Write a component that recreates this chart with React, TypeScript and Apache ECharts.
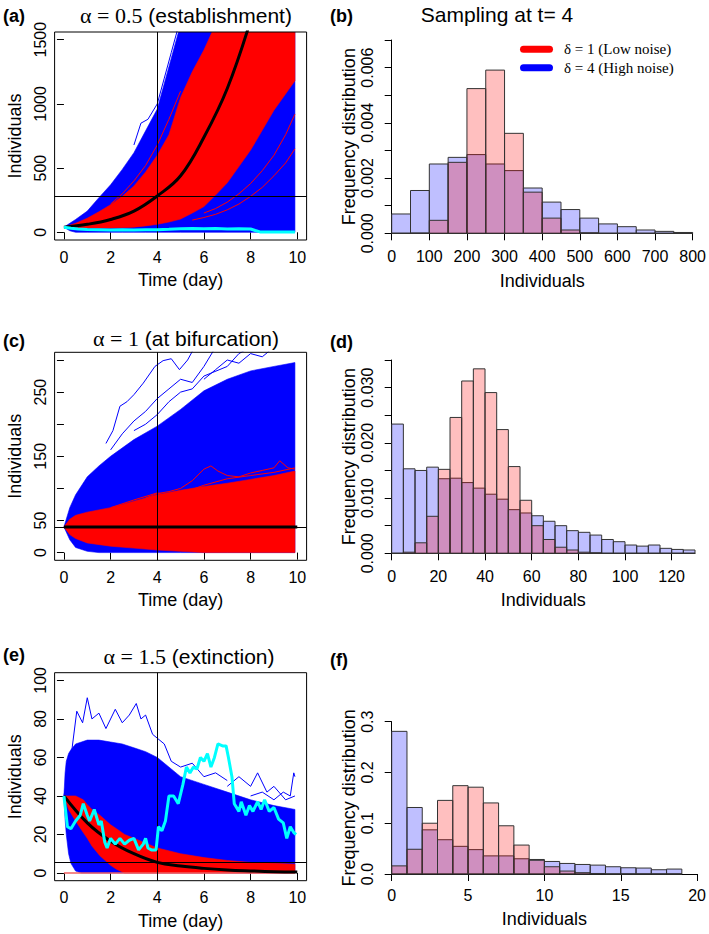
import React, { useEffect, useRef } from "react";
import * as echarts from "echarts";

const SANS = "'Liberation Sans', Arial, Helvetica, sans-serif";
const SERIF = "'Liberation Serif', 'Times New Roman', serif";

// ---------------- shared ----------------
const timeTicks = [0, 2, 4, 6, 8, 10];
const samplingT = 4;

// ---------------- (a) alpha = 0.5 ----------------
const aBlueT = [0, 0.25, 0.5, 1, 1.5, 2, 2.5, 3, 3.5, 4, 4.5, 5, 9.9];
const aBlueHi = [40, 70, 100, 165, 270, 370, 490, 620, 790, 960, 1290, 1620, 1620];
const aBlueLo = [40, 12, 0, 0, 0, 0, 0, 0, 0, 0, 0, 0, 0];
const aBlueOutT = [3, 3.3, 3.6, 4, 4.3, 4.6, 4.9];
const aBlueOut = [680, 850, 880, 1000, 1200, 1400, 1600];
const aRedT = [0, 0.5, 1, 1.5, 2, 2.5, 3, 3.5, 4, 4.5, 5, 5.5, 6, 6.5, 7, 8, 9, 9.9];
const aRedHi = [40, 70, 110, 160, 215, 280, 360, 470, 600, 760, 1050, 1250, 1420, 1620, 1620, 1620, 1620, 1620];
const aRedLo = [40, 35, 33, 33, 33, 35, 40, 50, 62, 80, 103, 150, 200, 290, 385, 640, 950, 1180];
const aRedOut1T = [5.5, 6, 6.5, 7, 7.5, 8, 8.5, 9, 9.5, 9.9];
const aRedOut1 = [95, 115, 140, 175, 220, 280, 350, 440, 540, 650];
const aRedOut2T = [6, 6.5, 7, 7.5, 8, 8.5, 9, 9.5, 9.9];
const aRedOut2 = [150, 185, 235, 300, 380, 480, 600, 760, 920];
const aRedOut3T = [2, 2.5, 3, 3.5, 4, 4.5, 5];
const aRedOut3 = [220, 300, 400, 520, 680, 880, 1100];
const aDetT = [0, 1, 2, 3, 4, 5, 6, 7, 8];
const aDet = [40, 62, 100, 165, 283, 440, 740, 1120, 1650];
const aCyanT = [0, 0.3, 0.6, 1, 1.5, 2, 2.5, 3, 3.5, 4, 4.5, 5, 5.5, 6, 6.5, 7, 7.5, 8, 8.2, 8.4, 9, 9.9];
const aCyan = [40, 32, 26, 22, 20, 18, 20, 17, 19, 20, 23, 27, 30, 27, 30, 25, 28, 26, 14, 3, 2, 2];
const aHLine = 283;
const aYTicks = [0, 500, 1000, 1500];

// ---------------- (c) alpha = 1 ----------------
const cBlueT = [0, 0.25, 0.5, 1, 1.5, 2, 3, 4, 5, 6, 7, 8, 9, 9.9];
const cBlueHi = [40, 70, 90, 118, 135, 150, 176, 197, 223, 252, 270, 283, 290, 296];
const cBlueLo = [40, 20, 8, 2, 0, 0, 0, 0, 0, 0, 0, 0, 0, 0];
const cBlueOut1T = [1.8, 2.1, 2.4, 2.7, 3.0, 3.4, 3.9, 4.25, 4.6, 4.95, 5.3, 5.6];
const cBlueOut1 = [170, 190, 228, 235, 246, 264, 290, 299, 302, 285, 300, 320];
const cBlueOut2T = [2, 2.5, 3, 3.5, 4, 4.5, 5, 5.5, 6, 6.5];
const cBlueOut2 = [160, 185, 205, 220, 240, 255, 270, 265, 290, 320];
const cBlueOut3T = [3, 3.5, 4, 4.5, 5, 5.5, 6, 7, 7.5, 8];
const cBlueOut3 = [190, 200, 215, 235, 250, 255, 275, 290, 310, 320];
const cBlueOut4T = [6, 6.5, 7, 7.5, 8, 8.5, 9, 9.5];
const cBlueOut4 = [270, 285, 300, 295, 310, 305, 320, 318];
const cRedT = [0, 0.25, 0.5, 1, 2, 3, 4, 5, 6, 7, 8, 9, 9.9];
const cRedHi = [40, 52, 58, 63, 70, 80, 90, 97, 103, 108, 114, 120, 127];
const cRedLo = [40, 28, 22, 15, 10, 7, 4, 2, 0, 0, 0, 0, 0];
const cRedOut1T = [3.5, 4, 4.5, 5, 5.5, 6, 6.3, 6.6, 7, 7.5, 8, 8.5, 9, 9.25, 9.6, 9.9];
const cRedOut1 = [85, 92, 95, 100, 112, 130, 135, 127, 120, 118, 124, 128, 132, 143, 132, 130];
const cRedOut2T = [2, 3, 4, 4.5, 5, 6, 7, 8, 9, 9.9];
const cRedOut2 = [70, 82, 93, 88, 92, 105, 115, 120, 125, 132];
const cDetT = [0, 10];
const cDet = [40, 40];
const cHLine = 40;
const cYTicks = [0, 50, 100, 150, 200, 250, 300];
const cYLabels = [0, 50, 150, 250];

// ---------------- (e) alpha = 1.5 ----------------
const eBlueT = [0, 0.05, 0.1, 0.2, 0.3, 0.5, 0.75, 1, 1.5, 2, 2.5, 3, 3.5, 4, 5, 6, 7, 8, 9, 9.9];
const eBlueHi = [40, 52, 58, 62, 64, 67, 68, 69, 69, 68, 67, 65, 63, 60, 50, 46, 42, 38, 35, 33];
const eBlueLo = [40, 28, 20, 10, 5, 1, 0, 0, 0, 0, 0, 0, 0, 0, 0, 0, 0, 0, 0, 0];
const eBlueOut1T = [0, 0.3, 0.55, 0.8, 1.0, 1.2, 1.5, 1.8, 2.2, 2.5, 2.8, 3.1, 3.3, 3.5, 3.8, 4.0, 4.3, 4.6, 5, 5.5, 6, 6.5, 7];
const eBlueOut1 = [40, 60, 84, 78, 91, 80, 83, 75, 85, 78, 82, 88, 80, 82, 72, 70, 67, 58, 55, 57, 50, 52, 48];
const eBlueOut2T = [8, 8.5, 9, 9.4, 9.7, 9.85, 9.9];
const eBlueOut2 = [40, 42, 38, 42, 40, 52, 50];
const eBlueOut3T = [7, 7.5, 8, 8.3, 8.7, 9, 9.5, 9.9];
const eBlueOut3 = [45, 50, 45, 52, 42, 45, 38, 40];
const eRedT = [0, 0.2, 0.5, 0.83, 1, 1.2, 1.54, 2, 2.25, 2.6, 3, 3.5, 4, 5, 6, 7, 8, 9, 9.9];
const eRedHi = [40, 40, 40, 38, 35.5, 33, 30, 25, 23, 20, 18, 15.5, 13, 10, 8, 6.5, 5.5, 5, 4.6];
const eRedLo = [40, 33, 27, 21, 18, 14, 9, 4, 2, 0, 0, 0, 0, 0, 0, 0, 0, 0, 0];
const eRedZeroT = [0, 9.9];
const eRedZero = [0, 0];
const eDetT = [0, 1, 2, 3, 4, 5, 6, 7, 8, 9, 10];
const eDet = [40, 26, 16.5, 10, 5.5, 3.6, 2.4, 1.6, 1.1, 0.7, 0.5];
const eCyanT = [0, 0.15, 0.3, 0.5, 0.7, 0.83, 1.0, 1.1, 1.3, 1.5, 1.6, 1.75, 1.85, 2.0, 2.2, 2.4, 2.6, 2.8, 3.0, 3.2, 3.4, 3.5, 3.6, 3.75, 3.95, 4.05, 4.2, 4.35, 4.5, 4.7, 4.9, 5.1, 5.25, 5.4, 5.55, 5.7, 5.85, 6.0, 6.15, 6.3, 6.45, 6.6, 6.8, 6.95, 7.05, 7.2, 7.3, 7.5, 7.6, 7.8, 7.95, 8.1, 8.3, 8.45, 8.6, 8.8, 9.0, 9.2, 9.4, 9.55, 9.7, 9.85, 9.95];
const eCyan = [40, 24, 23, 27, 30, 36, 30, 27, 33, 25, 27, 16, 13, 18, 15, 18, 15, 17, 18, 12, 15, 18, 13, 12, 12, 24, 22, 27, 40, 40, 36, 46, 55, 52, 55, 54, 60, 58, 62, 55, 60, 67, 66, 66, 60, 50, 36, 32, 37, 30, 35, 32, 37, 33, 38, 32, 34, 28, 26, 18, 24, 21, 20];
const eHLine = 5.5;
const eYTicks = [0, 20, 40, 60, 80, 100];

// ---------------- (b) histogram at t = 4, alpha = 0.5 ----------------
const bBreaks = [0, 50, 100, 150, 200, 250, 300, 350, 400, 450, 500, 550, 600, 650, 700, 750, 800];
const bBlue = [0.0007, 0.00155, 0.00251, 0.00275, 0.00285, 0.00251, 0.00227, 0.00164, 0.00113, 0.00086, 0.00055, 0.00034, 0.00024, 0.00012, 0.00007, 0.00003];
const bRed = [0, 0.00001, 0.00047, 0.00257, 0.00524, 0.00591, 0.00362, 0.00149, 0.00055, 0.00012, 0.00002, 0, 0, 0, 0, 0];
const bXTicks = [0, 100, 200, 300, 400, 500, 600, 700, 800];
const bYTicks = [0, 0.001, 0.002, 0.003, 0.004, 0.005, 0.006, 0.007];
const bYLabels = [0, 0.002, 0.004, 0.006];

// ---------------- (d) histogram, alpha = 1 ----------------
const dBreaks = [0, 5, 10, 15, 20, 25, 30, 35, 40, 45, 50, 55, 60, 65, 70, 75, 80, 85, 90, 95, 100, 105, 110, 115, 120, 125, 130];
const dBlue = [0.0234, 0.0153, 0.015, 0.0156, 0.0135, 0.0136, 0.0128, 0.0118, 0.0107, 0.0098, 0.0079, 0.0073, 0.0068, 0.0058, 0.005, 0.0041, 0.0038, 0.0033, 0.0025, 0.0021, 0.0015, 0.0013, 0.0015, 0.0009, 0.0007, 0.0006];
const dRed = [0, 0.0002, 0.0019, 0.0067, 0.0152, 0.0246, 0.0312, 0.0334, 0.0291, 0.0224, 0.0157, 0.0096, 0.005, 0.0025, 0.0011, 0.0006, 0.0002, 0.0001, 0, 0, 0, 0, 0, 0, 0, 0];
const dXTicks = [0, 20, 40, 60, 80, 100, 120];
const dYTicks = [0, 0.005, 0.01, 0.015, 0.02, 0.025, 0.03, 0.035];
const dYLabels = [0, 0.01, 0.02, 0.03];

// ---------------- (f) histogram, alpha = 1.5 ----------------
const fBreaks = [0, 1, 2, 3, 4, 5, 6, 7, 8, 9, 10, 11, 12, 13, 14, 15, 16, 17, 18, 19];
const fBlue = [0.281, 0.131, 0.087, 0.0675, 0.0545, 0.048, 0.0357, 0.0357, 0.03, 0.0286, 0.0247, 0.0208, 0.0188, 0.0175, 0.0143, 0.0123, 0.0117, 0.0084, 0.0097];
const fRed = [0.016, 0.0487, 0.1, 0.145, 0.174, 0.171, 0.14, 0.095, 0.057, 0.027, 0.0143, 0.0058, 0.0026, 0.001, 0, 0, 0, 0, 0];
const fXTicks = [0, 5, 10, 15, 20];
const fYTicks = [0, 0.1, 0.2, 0.3];

// ---------------- helpers ----------------
const zip = (t: number[], v: number[]) => t.map((x, i) => [x, v[i]]);

function band(g: number, ts: number[], lo: number[], hi: number[], color: string, z: number) {
  return {
    type: "custom",
    xAxisIndex: g,
    yAxisIndex: g,
    clip: true,
    silent: true,
    z,
    data: ts.map((t, i) => [t, lo[i], hi[i]]),
    encode: { x: 0, y: [1, 2] },
    renderItem: (params: any, api: any) => {
      if (params.dataIndex !== 0) return null;
      const pts: number[][] = [];
      for (let i = 0; i < ts.length; i++) pts.push(api.coord([ts[i], hi[i]]));
      for (let i = ts.length - 1; i >= 0; i--) pts.push(api.coord([ts[i], lo[i]]));
      return { type: "polygon", shape: { points: pts }, style: { fill: color, stroke: color, lineWidth: 0.6 } };
    },
  };
}

function line(g: number, ts: number[], vs: number[], color: string, width: number, z: number, extra: any = {}) {
  return {
    type: "line",
    xAxisIndex: g,
    yAxisIndex: g,
    data: zip(ts, vs),
    showSymbol: false,
    symbol: "none",
    silent: true,
    z,
    lineStyle: { color, width },
    ...extra,
  };
}

function guides(hval: number) {
  return {
    markLine: {
      silent: true,
      symbol: ["none", "none"],
      label: { show: false },
      lineStyle: { color: "#000", width: 1, type: "solid" },
      data: [{ xAxis: samplingT }, { yAxis: hval }],
    },
  };
}

function hist(g: number, breaks: number[], vals: number[], fill: string, z: number) {
  return {
    type: "custom",
    xAxisIndex: g,
    yAxisIndex: g,
    silent: true,
    z,
    data: vals.map((v, i) => [breaks[i], breaks[i + 1], v]),
    encode: { x: [0, 1], y: 2 },
    renderItem: (params: any, api: any) => {
      const p0 = api.coord([api.value(0), api.value(2)]);
      const p1 = api.coord([api.value(1), 0]);
      return {
        type: "rect",
        shape: { x: p0[0], y: p0[1], width: p1[0] - p0[0], height: p1[1] - p0[1] },
        style: { fill, stroke: "#333", lineWidth: 1 },
      };
    },
  };
}

const tickLbl = { color: "#000", fontSize: 16, fontFamily: SANS };
const nameTxt = { color: "#000", fontSize: 18, fontFamily: SANS };
const plain = (v: number) => String(v);

function leftX(g: number) {
  return {
    gridIndex: g,
    type: "value",
    min: -0.4,
    max: 10.4,
    axisLine: { show: false },
    splitLine: { show: false },
    axisTick: { show: true, length: 7, lineStyle: { color: "#000", width: 1 }, customValues: timeTicks },
    axisLabel: { ...tickLbl, customValues: timeTicks, margin: 9, formatter: plain },
    name: "Time (day)",
    nameLocation: "middle",
    nameGap: 31,
    nameTextStyle: nameTxt,
  };
}

function leftY(g: number, min: number, max: number, ticks: number[], labels: number[]) {
  return {
    gridIndex: g,
    type: "value",
    min,
    max,
    axisLine: { show: false },
    splitLine: { show: false },
    axisTick: { show: true, length: 7, lineStyle: { color: "#000", width: 1 }, customValues: ticks },
    axisLabel: { ...tickLbl, customValues: labels, rotate: 90, margin: 6, formatter: plain },
    name: "Individuals",
    nameLocation: "middle",
    nameRotate: 90,
    nameGap: 31,
    nameTextStyle: nameTxt,
  };
}

function histX(g: number, max: number, ticks: number[], offset: number) {
  return {
    gridIndex: g,
    type: "value",
    min: 0,
    max,
    offset,
    axisLine: { show: true, lineStyle: { color: "#000", width: 1 } },
    splitLine: { show: false },
    axisTick: { show: true, length: 7, lineStyle: { color: "#000", width: 1 }, customValues: ticks },
    axisLabel: { ...tickLbl, customValues: ticks, margin: 7, formatter: plain },
    name: "Individuals",
    nameLocation: "middle",
    nameGap: 30,
    nameTextStyle: nameTxt,
  };
}

function histY(g: number, max: number, ticks: number[], labels: number[], digits: number) {
  return {
    gridIndex: g,
    type: "value",
    min: 0,
    max,
    offset: 9,
    axisLine: { show: true, lineStyle: { color: "#000", width: 1 } },
    splitLine: { show: false },
    axisTick: { show: true, length: 7, lineStyle: { color: "#000", width: 1 }, customValues: ticks },
    axisLabel: { ...tickLbl, customValues: labels, rotate: 90, margin: 7, formatter: (v: number) => v.toFixed(digits) },
    name: "Frequency distribution",
    nameLocation: "middle",
    nameRotate: 90,
    nameGap: 25,
    nameTextStyle: nameTxt,
  };
}

function txt(x: number, y: number, text: string, font: string, align = "left", rich?: any) {
  return {
    type: "text",
    x,
    y,
    z: 100,
    style: {
      text,
      font,
      fill: "#000",
      textAlign: align,
      align,
      textVerticalAlign: "middle",
      verticalAlign: "middle",
      ...(rich ? { rich } : {}),
    },
  };
}

const BLUE = "#0000FF";
const RED = "#FF0000";
const CYAN = "#00FFFF";
const PINK = "rgba(255,0,0,0.25)";
const LAV = "rgba(0,0,255,0.25)";

export default function App() {
  const ref = useRef<HTMLDivElement>(null);
  useEffect(() => {
    if (!ref.current) return;
    const chart = echarts.init(ref.current, null, { renderer: "svg" });
    const leftGrid = { left: 54.6, width: 252, height: 208, show: true, borderColor: "#000", borderWidth: 1, backgroundColor: "transparent", z: 10 };
    const mathRich = { m: { fontFamily: SERIF, fontSize: 22 } };
    const smoothBlack = { smooth: 0.4 };
    const option: any = {
      animation: false,
      backgroundColor: "#fff",
      grid: [
        { ...leftGrid, top: 32 },
        { left: 391.7, top: 40, width: 311.2, height: 193.3 },
        { ...leftGrid, top: 352.3 },
        { left: 391.7, top: 360, width: 303.3, height: 193.3 },
        { ...leftGrid, top: 672.7 },
        { left: 391.7, top: 721.7, width: 308, height: 152.3 },
      ],
      xAxis: [
        leftX(0),
        histX(1, 800, bXTicks, 8.4),
        leftX(2),
        histX(3, 130, dXTicks, 7.7),
        leftX(4),
        histX(5, 20, fXTicks, 6),
      ],
      yAxis: [
        leftY(0, -60, 1560, aYTicks, aYTicks),
        histY(1, 0.007, bYTicks, bYLabels, 3),
        leftY(2, -12, 312, cYTicks, cYLabels),
        histY(3, 0.035, dYTicks, dYLabels, 3),
        leftY(4, -4, 104, eYTicks, eYTicks),
        histY(5, 0.3, fYTicks, fYTicks, 1),
      ],
      series: [
        // (a)
        band(0, aBlueT, aBlueLo, aBlueHi, BLUE, 1),
        line(0, aBlueOutT, aBlueOut, BLUE, 1, 2),
        band(0, aRedT, aRedLo, aRedHi, RED, 3),
        line(0, aRedOut1T, aRedOut1, RED, 1, 4),
        line(0, aRedOut2T, aRedOut2, RED, 1, 4),
        line(0, aRedOut3T, aRedOut3, RED, 1, 4),
        line(0, aDetT, aDet, "#000", 3, 5, smoothBlack),
        line(0, aCyanT, aCyan, CYAN, 3, 6, guides(aHLine)),
        // (b)
        hist(1, bBreaks, bBlue, LAV, 2),
        hist(1, bBreaks, bRed, PINK, 3),
        // (c)
        band(2, cBlueT, cBlueLo, cBlueHi, BLUE, 1),
        line(2, cBlueOut1T, cBlueOut1, BLUE, 1, 2),
        line(2, cBlueOut2T, cBlueOut2, BLUE, 1, 2),
        line(2, cBlueOut3T, cBlueOut3, BLUE, 1, 2),
        line(2, cBlueOut4T, cBlueOut4, BLUE, 1, 2),
        band(2, cRedT, cRedLo, cRedHi, RED, 3),
        line(2, cRedOut1T, cRedOut1, RED, 1, 4),
        line(2, cRedOut2T, cRedOut2, RED, 1, 4),
        line(2, cDetT, cDet, "#000", 3, 6, guides(cHLine)),
        // (d)
        hist(3, dBreaks, dBlue, LAV, 2),
        hist(3, dBreaks, dRed, PINK, 3),
        // (e)
        band(4, eBlueT, eBlueLo, eBlueHi, BLUE, 1),
        line(4, eBlueOut1T, eBlueOut1, BLUE, 1, 2),
        line(4, eBlueOut2T, eBlueOut2, BLUE, 1, 2),
        line(4, eBlueOut3T, eBlueOut3, BLUE, 1, 2),
        band(4, eRedT, eRedLo, eRedHi, RED, 3),
        line(4, eRedZeroT, eRedZero, "#F06060", 1.5, 4),
        line(4, eDetT, eDet, "#000", 3, 5, smoothBlack),
        line(4, eCyanT, eCyan, CYAN, 3, 6, guides(eHLine)),
        // (f)
        hist(5, fBreaks, fBlue, LAV, 2),
        hist(5, fBreaks, fRed, PINK, 3),
      ],
      graphic: [
        txt(3, 16, "(a)", `bold 18px ${SANS}`),
        txt(330, 16, "(b)", `bold 18px ${SANS}`),
        txt(3, 341, "(c)", `bold 18px ${SANS}`),
        txt(330, 342, "(d)", `bold 18px ${SANS}`),
        txt(3, 655, "(e)", `bold 18px ${SANS}`),
        txt(330, 660, "(f)", `bold 18px ${SANS}`),
        txt(186, 15, "{m|α = 0.5} (establishment)", `21px ${SANS}`, "center", mathRich),
        txt(186, 338, "{m|α = 1} (at bifurcation)", `21px ${SANS}`, "center", mathRich),
        txt(189, 656, "{m|α = 1.5} (extinction)", `21px ${SANS}`, "center", mathRich),
        txt(497, 14, "Sampling at t= 4", `21px ${SANS}`, "center"),
        { type: "line", z: 100, shape: { x1: 523.5, y1: 49.3, x2: 549.5, y2: 49.3 }, style: { stroke: RED, lineWidth: 7, lineCap: "round" } },
        { type: "line", z: 100, shape: { x1: 523.5, y1: 67.7, x2: 549.5, y2: 67.7 }, style: { stroke: BLUE, lineWidth: 7, lineCap: "round" } },
        txt(564, 49.3, "δ = 1 (Low noise)", `15px ${SERIF}`),
        txt(564, 67.7, "δ = 4 (High noise)", `15px ${SERIF}`),
      ],
    };
    chart.setOption(option);
    return () => chart.dispose();
  }, []);
  return <div ref={ref} style={{ position: "absolute", left: 0, top: 0, width: 709, height: 934 }} />;
}
